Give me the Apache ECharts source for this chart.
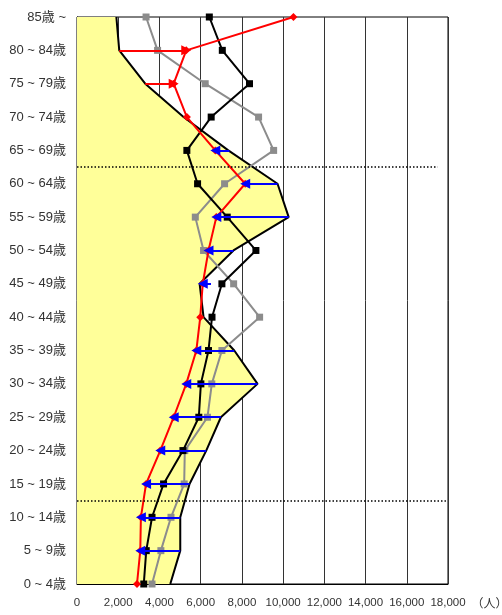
<!DOCTYPE html>
<html>
<head>
<meta charset="utf-8">
<script src="https://cdn.jsdelivr.net/npm/echarts@6/dist/echarts.min.js"></script>
<style>
html,body{margin:0;padding:0;background:#fff;}
#chart{width:502px;height:615px;}
</style>
</head>
<body>
<div id="chart"></div>
<script>
// Age groups, bottom (0~4) to top (85~)
const categories = ['0 ~ 4歳','5 ~ 9歳','10 ~ 14歳','15 ~ 19歳','20 ~ 24歳','25 ~ 29歳','30 ~ 34歳','35 ~ 39歳','40 ~ 44歳','45 ~ 49歳','50 ~ 54歳','55 ~ 59歳','60 ~ 64歳','65 ~ 69歳','70 ~ 74歳','75 ~ 79歳','80 ~ 84歳','85歳 ~'];
// Yellow filled profile
const areaValues  = [4525, 5010, 5010, 5460, 6270, 6980, 8760, 7630, 6140, 5950, 7590, 10270, 9730, 7340, 5170, 3310, 2050, 1910];
// Red line (diamonds)
const redValues   = [2910, 3070, 3100, 3350, 4040, 4690, 5300, 5790, 5980, 6100, 6380, 6760, 8160, 6710, 5330, 4690, 5300, 10500];
// Black line (squares)
const blackValues = [3240, 3360, 3640, 4200, 5140, 5910, 6010, 6380, 6550, 7030, 8680, 7290, 5850, 5330, 6510, 8370, 7050, 6420];
// Gray line (squares)
const grayValues  = [3640, 4070, 4560, 5200, 5230, 6330, 6540, 7030, 8860, 7600, 6140, 5740, 7160, 9540, 8810, 6220, 3910, 3350];
// Arrow start values (arrow ends at the red value); null = no arrow
const arrowStart  = [null, 5010, 5010, 5460, 6270, 6980, 8760, 7630, null, 6500, 7590, 10270, 9730, 7400, null, 3310, 2050, null];
// Dotted separator positions (in category index units) and their end value
const separators  = [[2.5, 17900], [12.5, 17500]];
const xTicks = {min: 0, max: 18000, interval: 2000};

const arrowData = [];
arrowStart.forEach((s, i) => {
  if (s === null) return;
  const e = redValues[i];
  arrowData.push({
    coords: [[s, i], [e, i]],
    lineStyle: {color: e < s ? '#0000ff' : '#ff0000'}
  });
});
const sepData = separators.map(([y, xe]) => ({coords: [[0, y], [xe, y]]}));

const font = 'Liberation Sans, Arial, Noto Sans CJK JP, sans-serif';
const chart = echarts.init(document.getElementById('chart'), null, {renderer: 'canvas'});
chart.setOption({
  animation: false,
  backgroundColor: '#fff',
  grid: {left: 77, right: 54, top: 17, bottom: 31, containLabel: false, outerBoundsMode: 'none',
    show: true, borderColor: '#000', borderWidth: 1, backgroundColor: 'transparent'},
  xAxis: {
    type: 'value', min: xTicks.min, max: xTicks.max, interval: xTicks.interval,
    axisLine: {show: true, lineStyle: {color: '#000', width: 1}},
    axisTick: {show: false},
    splitLine: {show: true, lineStyle: {color: '#333', width: 1}},
    axisLabel: {color: '#333', fontSize: 11.5, fontFamily: font, margin: 13,
      formatter: v => v.toLocaleString('en-US')},
    name: '（人）', nameLocation: 'end', nameGap: 14,
    nameTextStyle: {color: '#333', fontSize: 12, fontFamily: font, verticalAlign: 'top', align: 'left', padding: [15, 0, 0, 0]}
  },
  yAxis: [{
    type: 'category', data: categories, boundaryGap: false,
    axisLine: {show: true, lineStyle: {color: '#000', width: 1}},
    axisTick: {show: false},
    splitLine: {show: false},
    axisLabel: {color: '#333', fontSize: 13, fontFamily: font, margin: 11}
  }, {
    type: 'value', min: 0, max: categories.length - 1, show: false
  }],
  series: [
    {
      type: 'line', data: areaValues, yAxisIndex: 0, z: 1,
      symbol: 'none', lineStyle: {color: '#000', width: 2},
      areaStyle: {color: '#ffff99', opacity: 1}
    },
    {
      type: 'line', data: grayValues, z: 3,
      symbol: 'rect', symbolSize: 7,
      lineStyle: {color: '#8c8c8c', width: 2}, itemStyle: {color: '#8c8c8c'}
    },
    {
      type: 'line', data: blackValues, z: 4,
      symbol: 'rect', symbolSize: 7,
      lineStyle: {color: '#000', width: 2}, itemStyle: {color: '#000'}
    },
    {
      type: 'line', data: redValues, z: 5,
      symbol: 'diamond', symbolSize: 8,
      lineStyle: {color: '#ff0000', width: 2}, itemStyle: {color: '#ff0000'}
    },
    {
      type: 'lines', coordinateSystem: 'cartesian2d', xAxisIndex: 0, yAxisIndex: 0, z: 6,
      symbol: ['none', 'triangle'], symbolSize: [0, 10],
      lineStyle: {width: 2, opacity: 1, curveness: 0},
      data: arrowData
    },
    {
      type: 'lines', coordinateSystem: 'cartesian2d', xAxisIndex: 0, yAxisIndex: 1, z: 7,
      symbol: 'none',
      lineStyle: {color: '#000', width: 1.5, type: [1.5, 2], opacity: 1},
      data: sepData
    }
  ]
});
</script>
</body>
</html>
